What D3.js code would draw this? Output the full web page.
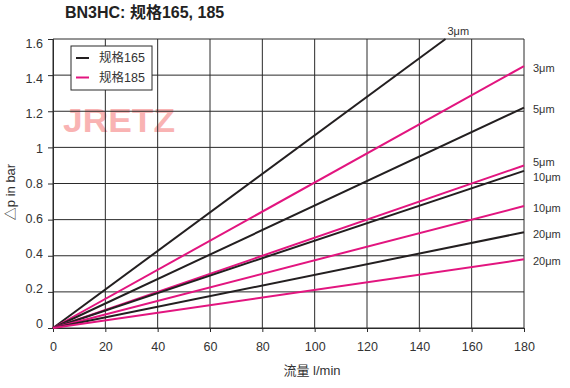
<!DOCTYPE html>
<html>
<head>
<meta charset="utf-8">
<script src="https://cdn.jsdelivr.net/npm/d3@7"></script>
<style>
    body { margin: 0; background: #fff; }
    text { font-family: "Liberation Sans", Arial, "Noto Sans CJK SC", sans-serif; }
</style>
</head>
<body>
<div id="chart"></div>
<script>

// Pressure drop curves

var grades = ["3μm", "5μm", "10μm", "20μm"];

// size 165 (black) : end point of each straight line
var flowEnd165 = [150, 180, 180, 180];
var dp165 = [1.6, 1.22, 0.87, 0.53];

// size 185 (magenta)
var flowEnd185 = [180, 180, 180, 180];
var dp185 = [1.45, 0.9, 0.675, 0.38];

var xTicks = [0, 20, 40, 60, 80, 100, 120, 140, 160, 180];
var yTicks = [0, 0.2, 0.4, 0.6, 0.8, 1, 1.2, 1.4, 1.6];

var legendLabels = ["规格165", "规格185"];


var chart = {

    settings : {
        width : 570,//px
        height : 388,//px
        marginTop : 39,
        marginLeft : 53,
        marginRight : 46,
        marginBottom : 60,
        black : "#231f20",
        magenta : "#e2157f",
        grid : "#2a2a2a",
        textColor : "#333",
    },

    draw : function(){
        var s = chart.settings;
        var innerW = s.width - s.marginLeft - s.marginRight;
        var innerH = s.height - s.marginTop - s.marginBottom;

        var svg = d3.select("#chart").append("svg")
            .attr("width", s.width)
            .attr("height", s.height);

        var x = d3.scaleLinear().domain([0, 180]).range([0, innerW]);
        var y = d3.scaleLinear().domain([0, 1.6]).range([innerH, 0]);

        // the y labels in the original sit a bit squeezed against the grid
        var labelShift = d3.scaleLinear().domain([0, 1.6]).range([-5, 4]);

        // title
        svg.append("text")
            .attr("x", 65).attr("y", 17.5)
            .attr("font-size", "16px")
            .attr("font-weight", "bold")
            .attr("fill", "#222")
            .text("BN3HC: 规格165, 185");

        var g = svg.append("g")
            .attr("transform", "translate(" + s.marginLeft + "," + s.marginTop + ")");

        // watermark, behind the grid
        g.append("text")
            .attr("x", 10).attr("y", 93)
            .attr("font-family", "DejaVu Sans")
            .attr("font-size", "33px")
            .attr("font-weight", "bold")
            .attr("fill", "#f9b3b3")
            .attr("textLength", 112)
            .attr("lengthAdjust", "spacingAndGlyphs")
            .text("JRETZ");

        // grid
        g.append("g").selectAll("line").data(xTicks).join("line")
            .attr("x1", d => x(d)).attr("x2", d => x(d))
            .attr("y1", 0).attr("y2", innerH)
            .attr("stroke", s.grid).attr("stroke-width", 1);
        g.append("g").selectAll("line").data(yTicks).join("line")
            .attr("x1", 0).attr("x2", innerW)
            .attr("y1", d => y(d)).attr("y2", d => y(d))
            .attr("stroke", s.grid).attr("stroke-width", 1);

        // axes
        var xAxis = g.append("g")
            .attr("transform", "translate(0," + innerH + ")")
            .call(d3.axisBottom(x).tickValues(xTicks).tickSize(4).tickPadding(10));
        var yAxis = g.append("g")
            .call(d3.axisLeft(y).tickValues(yTicks).tickSize(5).tickPadding(5)
                .tickFormat(d => String(+d.toFixed(1))));
        [xAxis, yAxis].forEach(function(a){
            a.select(".domain").attr("stroke", s.grid);
            a.selectAll(".tick line").attr("stroke", s.grid);
            a.selectAll(".tick text")
                .attr("font-size", "12.5px")
                .attr("fill", s.textColor)
                .style("font-family", "'Liberation Sans', Arial, sans-serif");
        });
        yAxis.selectAll(".tick text")
            .attr("y", d => labelShift(d));

        // lines
        var line = d3.line().x(d => x(d[0])).y(d => y(d[1]));
        var series = [];
        grades.forEach(function(gr, i){
            series.push({ grade : gr, color : s.black, pts : [[0, 0], [flowEnd165[i], dp165[i]]] });
            series.push({ grade : gr, color : s.magenta, pts : [[0, 0], [flowEnd185[i], dp185[i]]] });
        });

        g.append("g").selectAll("path").data(series).join("path")
            .attr("d", d => line(d.pts))
            .attr("fill", "none")
            .attr("stroke", d => d.color)
            .attr("stroke-width", 2);

        // end labels, pushed apart where they would overlap
        var right = series.filter(d => d.pts[1][0] >= 180)
            .map(d => ({ grade : d.grade, ly : y(d.pts[1][1]) + 2 }))
            .sort((a, b) => a.ly - b.ly);
        for (var k = 1; k < right.length; k++) {
            var gap = right[k].ly - right[k - 1].ly;
            if (gap < 15) {
                var shift = (15 - gap) / 2;
                right[k - 1].ly -= shift;
                right[k].ly += shift;
            }
        }
        g.append("g").selectAll("text").data(right).join("text")
            .attr("x", innerW + 9)
            .attr("y", d => d.ly)
            .attr("dy", "0.35em")
            .attr("font-size", "11px")
            .attr("fill", s.textColor)
            .text(d => d.grade);

        var top = series.filter(d => d.pts[1][0] < 180);
        g.append("g").selectAll("text").data(top).join("text")
            .attr("x", d => x(d.pts[1][0]) + 2)
            .attr("y", d => y(d.pts[1][1]) - 4)
            .attr("font-size", "11px")
            .attr("fill", s.textColor)
            .text(d => d.grade);

        // legend
        var lg = g.append("g").attr("transform", "translate(18,7)");
        lg.append("rect")
            .attr("width", 81).attr("height", 44)
            .attr("fill", "#fff")
            .attr("stroke", s.grid);
        lg.selectAll("line").data(legendLabels).join("line")
            .attr("x1", 5).attr("x2", 18)
            .attr("y1", (d, i) => 12 + i * 19.5).attr("y2", (d, i) => 12 + i * 19.5)
            .attr("stroke", (d, i) => i === 0 ? s.black : s.magenta)
            .attr("stroke-width", 2);
        lg.selectAll("text").data(legendLabels).join("text")
            .attr("x", 28)
            .attr("y", (d, i) => 12 + i * 19.5)
            .attr("dy", "0.35em")
            .attr("font-size", "12.5px")
            .attr("fill", s.textColor)
            .text(d => d);

        // axis titles
        svg.append("text")
            .attr("transform", "translate(15,192) rotate(-90)")
            .attr("text-anchor", "middle")
            .attr("font-size", "13px")
            .attr("fill", s.textColor)
            .text("△p in bar");

        svg.append("text")
            .attr("x", 312).attr("y", 375)
            .attr("text-anchor", "middle")
            .attr("font-size", "13px")
            .attr("fill", s.textColor)
            .text("流量  l/min");
    }
};

chart.draw();
</script>
</body>
</html>
